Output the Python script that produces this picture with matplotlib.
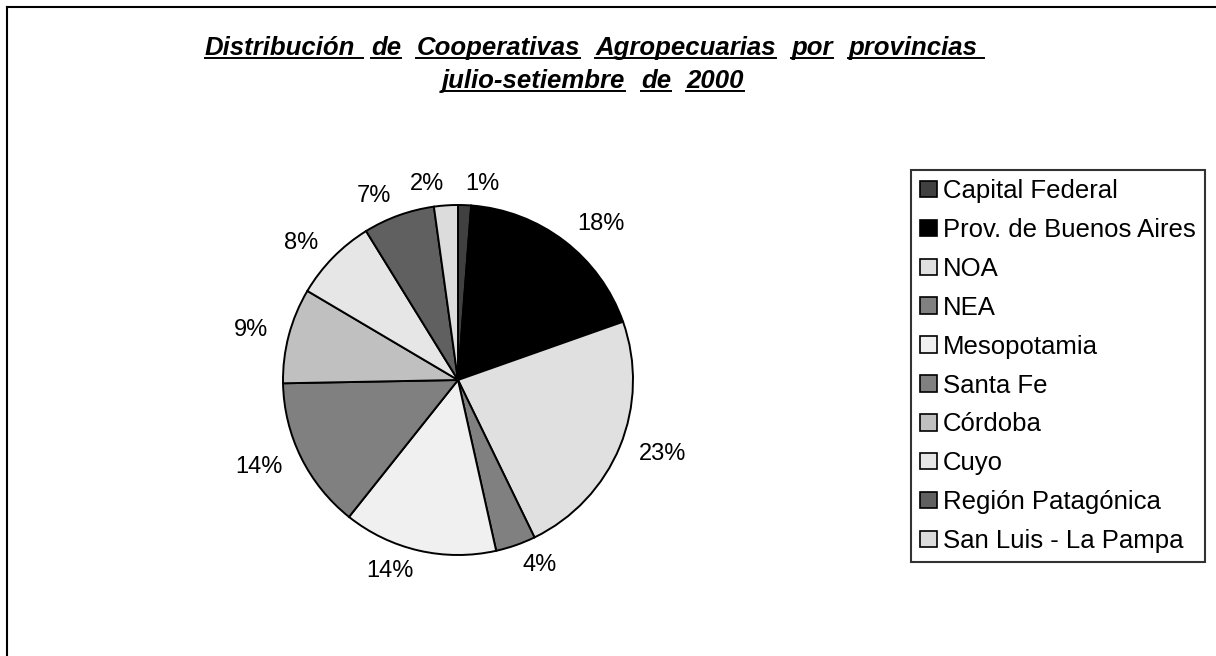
import matplotlib
matplotlib.use("Agg")
import matplotlib.pyplot as plt
import numpy as np
from matplotlib.lines import Line2D
from matplotlib.patches import Patch

# datos del grafico
regiones = ["Capital Federal", "Prov. de Buenos Aires", "NOA", "NEA", "Mesopotamia",
            "Santa Fe", "Córdoba", "Cuyo", "Región Patagónica", "San Luis - La Pampa"]
porcentajes = [1.2, 18.4, 23.2, 3.7, 14.2, 14.0, 8.8, 7.7, 6.6, 2.2]
grises = ["#404040", "#000000", "#e0e0e0", "#808080", "#f0f0f0",
          "#808080", "#c0c0c0", "#e6e6e6", "#606060", "#dcdcdc"]

titulo1 = ["Distribución ", "de", "Cooperativas", "Agropecuarias", "por", "provincias "]
titulo2 = ["julio-setiembre", "de", "2000"]

W, H = 1216, 656
plt.rcParams["font.family"] = ["Liberation Sans", "DejaVu Sans"]
fig = plt.figure(figsize=(W / 100, H / 100), dpi=100)

# marco del area del grafico (solo se ven el lado izquierdo y el de arriba)
fig.add_artist(Line2D([7 / W, 7 / W], [0, 1 - 7 / H], color="black", lw=1.5))
fig.add_artist(Line2D([7 / W, 1], [1 - 7 / H, 1 - 7 / H], color="black", lw=1.5))

# torta
cx, cy, r = 458, 380, 175
pad = 1.05
ax = fig.add_axes([(cx - pad * r) / W, (H - cy - pad * r) / H, 2 * pad * r / W, 2 * pad * r / H])
wedges, _ = ax.pie(porcentajes, colors=grises, startangle=90, counterclock=False,
                   wedgeprops=dict(edgecolor="black", linewidth=1.4))
ax.set_xlim(-pad, pad)
ax.set_ylim(-pad, pad)

for w, v in zip(wedges, porcentajes):
    ang = np.deg2rad((w.theta1 + w.theta2) / 2)
    x, y = 1.12 * np.cos(ang), 1.12 * np.sin(ang)
    ax.text(x, y, f"{round(v)}%", ha="left" if x > 0 else "right", va="center", fontsize=17)

# leyenda
handles = [Patch(facecolor=c, edgecolor="black", linewidth=1.2) for c in grises]
leg = fig.legend(handles, regiones, loc="upper left", bbox_to_anchor=(911 / W, 1 - 170 / H),
                 frameon=True, fancybox=False, fontsize=18.5, handlelength=0.65, handleheight=0.6,
                 handletextpad=0.25, labelspacing=0.58, borderpad=0.35, borderaxespad=0)
leg.get_frame().set_edgecolor("black")
leg.get_frame().set_linewidth(1.5)

# titulo subrayado palabra por palabra
tam = 18.5
em = tam * 100 / 72


def linea_subrayada(palabras, x0, base):
    rend = fig.canvas.get_renderer()
    x = x0
    for p in palabras:
        t = fig.text(x / W, 1 - base / H, p.strip(), fontsize=tam, fontweight="bold",
                     fontstyle="italic", ha="left", va="baseline")
        bb = t.get_window_extent(rend)
        fin = bb.x1 + (0.28 * em if p.endswith(" ") else 0)
        fig.add_artist(Line2D([x / W, fin / W], [1 - (base + 3) / H] * 2, color="black", lw=1.4))
        x = bb.x1 + 0.6 * em


linea_subrayada(titulo1, 205, 55)
linea_subrayada(titulo2, 442, 88)

fig.savefig("out.png", dpi=100, facecolor="white")
